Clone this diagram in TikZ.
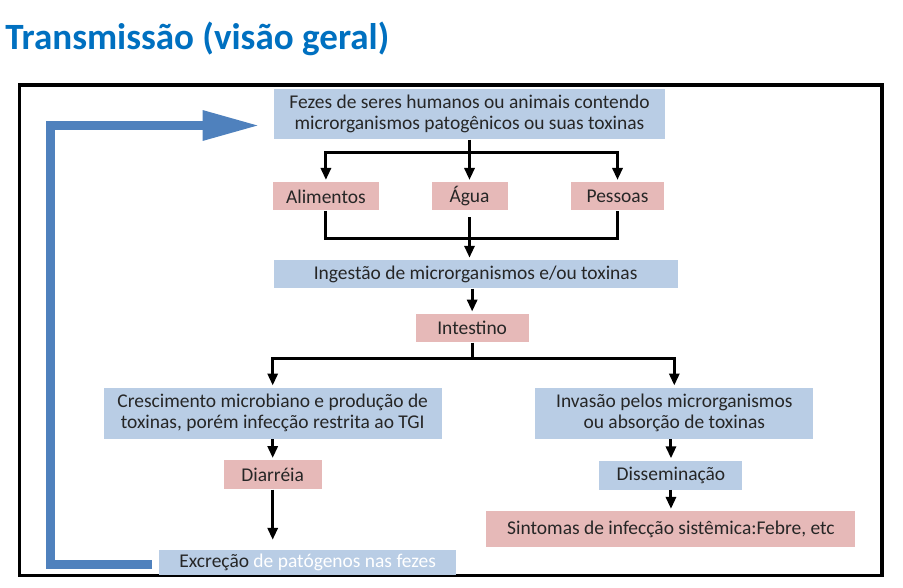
\documentclass[tikz,border=0pt]{standalone}
\usepackage{fontspec}
\setmainfont{Carlito}
\usetikzlibrary{arrows.meta,positioning,calc}
\definecolor{titleblue}{RGB}{0,112,192}
\definecolor{boxblue}{RGB}{185,205,229}
\definecolor{boxpink}{RGB}{230,185,184}
\definecolor{loopblue}{RGB}{79,129,189}
\definecolor{textgray}{RGB}{38,38,38}
\tikzset{
  boxnode/.style={rectangle, inner sep=0pt, align=center, text=textgray, font=\fontsize{14.6pt}{15.75pt}\selectfont},
  flowline/.style={line width=2.25pt, black},
  arrow/.style={flowline, -{Triangle[length=9pt,width=7.5pt]}, shorten >=1.5pt},
  backflow/.style={line width=6.75pt, loopblue, -{Triangle[length=42.75pt,width=21pt]}}
}

\begin{document}
\begin{tikzpicture}[x=0.75pt, y=-0.75pt]
  \useasboundingbox (0,0) rectangle (903,588);
  \node [anchor=base west, inner sep=0pt, text=titleblue, font=\fontsize{27.8pt}{33pt}\selectfont\bfseries] (title) at (5,50) {Transmissão (visão geral)};
  \draw [line width=2.6pt] (19.5,85) rectangle (882,575.5);

  \node [boxnode, fill=boxblue, minimum width=293.25pt, minimum height=37.5pt] (fezes) at (469.5,114.3) {Fezes de seres humanos ou animais contendo\\microrganismos patogênicos ou suas toxinas};
  \node [boxnode, fill=boxpink, below=31.8pt of fezes, minimum width=57pt, minimum height=21.2pt] (agua) {Água};
  \node [boxnode, fill=boxpink, left=38.8pt of agua, minimum width=80pt, minimum height=21.2pt] (alimentos) {Alimentos};
  \node [boxnode, fill=boxpink, right=47.5pt of agua, minimum width=69.2pt, minimum height=21.2pt] (pessoas) {Pessoas};
  \node [boxnode, fill=boxblue, below=36.75pt of agua, xshift=4.6pt, minimum width=302.8pt, minimum height=21.2pt] (ingestao) {Ingestão de microrganismos e/ou toxinas};
  \node [boxnode, fill=boxpink, below=18.75pt of ingestao, xshift=-2.6pt, minimum width=85pt, minimum height=21.3pt] (intestino) {Intestino};
  \node [boxnode, fill=boxblue, below=33.75pt of intestino, xshift=-149.6pt, minimum width=253.3pt, minimum height=38.25pt] (crescimento) {Crescimento microbiano e produção de\\toxinas, porém infecção restrita ao TGI};
  \node [boxnode, fill=boxblue, right=70pt of crescimento, minimum width=208.3pt, minimum height=38.25pt] (invasao) {Invasão pelos microrganismos\\ou absorção de toxinas};
  \node [boxnode, fill=boxpink, below=15.75pt of crescimento, minimum width=73.7pt, minimum height=21.75pt] (diarreia) {Diarréia};
  \node [boxnode, fill=boxblue, below=16pt of invasao, xshift=-2.5pt, minimum width=107.25pt, minimum height=21.75pt] (disseminacao) {Disseminação};
  \node [boxnode, fill=boxpink, below=15.75pt of disseminacao, minimum width=276.75pt, minimum height=27pt] (sintomas) {Sintomas de infecção sistêmica:Febre, etc};
  \node [boxnode, fill=boxblue, below=45.2pt of diarreia, xshift=26.3pt, minimum width=223pt, minimum height=18.5pt] (excrecao) {Excreção \textcolor{white}{de patógenos nas fezes}};

  \draw [flowline] (fezes.south) -- ++(0,-10pt) coordinate (split);
  \draw [arrow] (split) -| (alimentos);
  \draw [arrow] (split) -- (agua);
  \draw [arrow] (split) -| (pessoas);
  \draw [flowline] (alimentos.south) -- ++(0,-20.5pt) -| (pessoas.south);
  \draw [arrow, shorten <=5pt] (agua.south) -- (agua.south |- ingestao.north);
  \draw [arrow] (ingestao.south -| intestino) -- (intestino);
  \draw [flowline] (intestino.south) -- ++(0,-12pt) coordinate (branch);
  \draw [arrow] (branch) -| (crescimento);
  \draw [arrow] (branch) -| (invasao);
  \draw [arrow] (crescimento) -- (diarreia);
  \draw [arrow, shorten >=7.5pt] (diarreia.south) -- (diarreia.south |- excrecao.north);
  \draw [arrow] (invasao.south -| disseminacao) -- (disseminacao);
  \draw [arrow] (disseminacao) -- (sintomas);
  \draw [backflow] ([xshift=-5pt,yshift=-1.6pt]excrecao.west) -- ++(-76.5pt,0) |- ([xshift=-10.5pt,yshift=-8.4pt]fezes.west);
\end{tikzpicture}
\end{document}
